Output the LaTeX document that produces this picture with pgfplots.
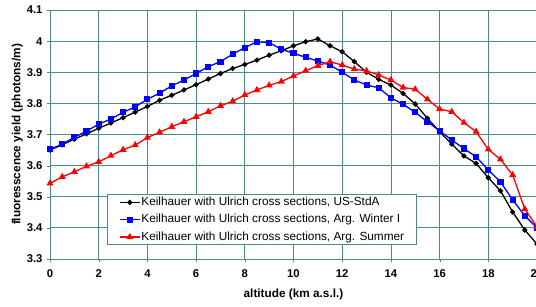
\documentclass[border=0pt]{standalone}
\usepackage{pgfplots}
\pgfplotsset{compat=1.18}
\usepackage{fontspec}
\setmainfont{Liberation Sans}
\definecolor{gridc}{RGB}{80,135,135}
\definecolor{myblue}{RGB}{0,0,255}
\definecolor{myred}{RGB}{255,0,0}
\begin{document}
\begin{tikzpicture}
\begin{axis}[
  name=ax,
  scale only axis,
  width=487bp, height=249bp,
  xmin=0, xmax=20, ymin=3.3, ymax=4.1,
  xtick={0,2,...,20},
  ytick={3.3,3.4,...,4.1},
  yticklabel style={/pgf/number format/fixed,/pgf/number format/precision=1},
  /pgf/number format/assume math mode=true,
  ticklabel style={font=\fontsize{11.3bp}{13bp}\selectfont\bfseries},
  xticklabel style={yshift=-4bp},
  yticklabel style={xshift=-1bp},
  xlabel={altitude (km a.s.l.)},
  ylabel={fluoresscence yield (photons/m)},
  label style={font=\fontsize{11.8bp}{13bp}\selectfont\bfseries},
  xlabel style={yshift=-5bp},
  ylabel style={yshift=-3bp},
  grid=major,
  major grid style={gridc, line width=0.8bp},
  axis line style={gridc, line width=0.8bp},
  tick style={gridc},
  major tick length=3bp,
  tick align=outside,
  xtick pos=bottom, ytick pos=left,
  legend cell align=left,
  legend style={at={(0.1177,0.056)}, anchor=south west, draw=gridc, line width=0.6bp,
    font=\fontsize{11.8bp}{13bp}\selectfont, inner xsep=11.5bp, inner ysep=1.2bp, row sep=4.3bp,
    nodes={inner sep=1bp, text height=8.5bp, text depth=2.5bp}},
  legend image code/.code={\draw[mark repeat=2,mark phase=2,#1] plot coordinates {(0bp,0bp) (10bp,0bp) (20bp,0bp)};},
]
\addplot[black, line width=1.3bp, mark=*, mark size=1.9bp] coordinates {
(0,3.650)(0.5,3.667)(1,3.685)(1.5,3.702)(2,3.720)(2.5,3.737)(3,3.754)(3.5,3.772)(4,3.790)
(4.5,3.810)(5,3.826)(5.5,3.843)(6,3.860)(6.5,3.878)(7,3.896)(7.5,3.912)(8,3.925)
(8.5,3.939)(9,3.955)(9.5,3.969)(10,3.985)(10.5,3.998)(11,4.007)(11.5,3.985)(12,3.966)
(12.5,3.934)(13,3.900)(13.5,3.877)(14,3.859)(14.5,3.832)(15,3.798)(15.5,3.752)(16,3.709)
(16.5,3.669)(17,3.631)(17.5,3.607)(18,3.561)(18.5,3.519)(19,3.451)(19.5,3.393)(20,3.348)};
\addlegendentry{Keilhauer with Ulrich cross sections, US-StdA}
\addplot[myblue, line width=1.3bp, mark=square*, mark size=2.4bp] coordinates {
(0,3.652)(0.5,3.669)(1,3.691)(1.5,3.711)(2,3.733)(2.5,3.750)(3,3.771)(3.5,3.789)(4,3.813)
(4.5,3.833)(5,3.856)(5.5,3.875)(6,3.896)(6.5,3.918)(7,3.934)(7.5,3.958)(8,3.979)
(8.5,3.998)(9,3.995)(9.5,3.974)(10,3.961)(10.5,3.948)(11,3.936)(11.5,3.923)(12,3.900)
(12.5,3.875)(13,3.859)(13.5,3.850)(14,3.818)(14.5,3.797)(15,3.771)(15.5,3.741)(16,3.712)
(16.5,3.682)(17,3.655)(17.5,3.628)(18,3.586)(18.5,3.548)(19,3.490)(19.5,3.439)(20,3.400)};
\addlegendentry{Keilhauer with Ulrich cross sections, Arg. Winter I}
\addplot[myred, line width=1.3bp, mark=triangle*, mark size=2.8bp] coordinates {
(0,3.543)(0.5,3.564)(1,3.580)(1.5,3.598)(2,3.612)(2.5,3.632)(3,3.651)(3.5,3.666)(4,3.690)
(4.5,3.707)(5,3.725)(5.5,3.741)(6,3.757)(6.5,3.773)(7,3.792)(7.5,3.807)(8,3.827)
(8.5,3.843)(9,3.858)(9.5,3.870)(10,3.888)(10.5,3.905)(11,3.921)(11.5,3.934)(12,3.923)
(12.5,3.910)(13,3.904)(13.5,3.891)(14,3.875)(14.5,3.851)(15,3.845)(15.5,3.813)(16,3.782)
(16.5,3.773)(17,3.738)(17.5,3.709)(18,3.652)(18.5,3.620)(19,3.570)(19.5,3.460)(20,3.404)};
\addlegendentry{Keilhauer with Ulrich cross sections, Arg. Summer}
\end{axis}
\pgfresetboundingbox
\path ([xshift=-50bp,yshift=-48bp]ax.south west) rectangle ([xshift=-1bp,yshift=10bp]ax.north east);
\end{tikzpicture}
\end{document}
